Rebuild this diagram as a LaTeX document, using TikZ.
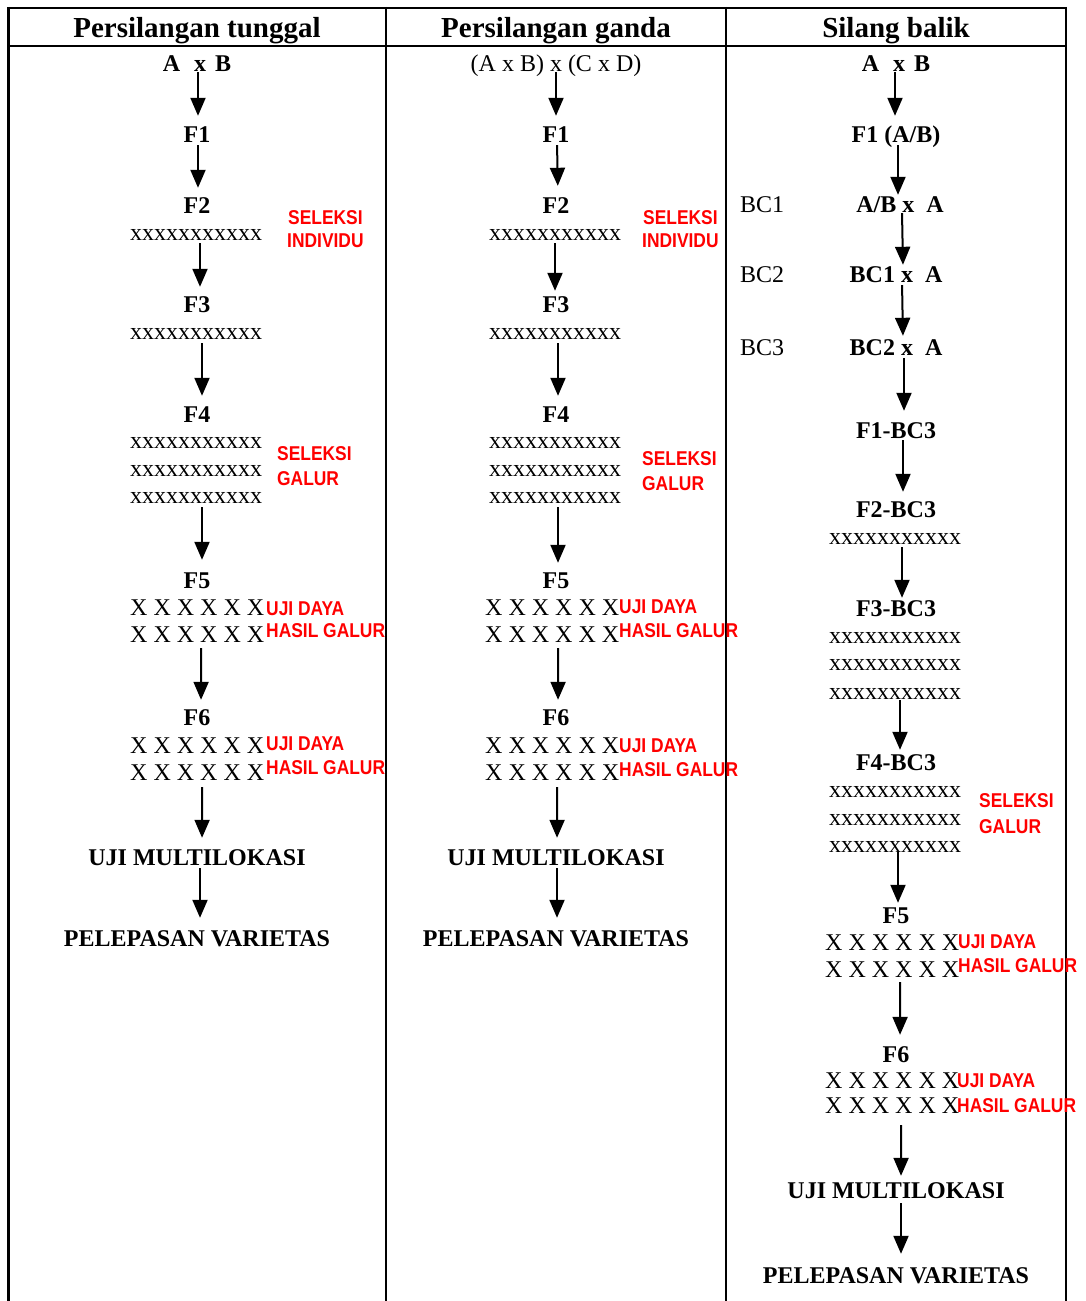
\documentclass[tikz,border=0pt]{standalone}
\usepackage{fontspec}
\setmainfont{Liberation Serif}
\newfontfamily\redfont[FakeStretch=0.87]{Liberation Sans}
\usetikzlibrary{arrows.meta}
\begin{document}
\begin{tikzpicture}[x=1pt,y=-1pt,
  tbl/.style={line width=2.5pt},
  hdr/.style={font=\fontsize{29}{32}\selectfont\bfseries, anchor=base, inner sep=0pt},
  lbl/.style={font=\fontsize{24}{26}\selectfont\bfseries, anchor=base, inner sep=0pt, text height=16pt, text depth=0pt},
  reg/.style={font=\fontsize{24}{26}\selectfont, anchor=base, inner sep=0pt, text height=16pt, text depth=0pt},
  bcl/.style={font=\fontsize{24}{26}\selectfont, anchor=base west, inner sep=0pt},
  xrow/.style={font=\fontsize{24}{26}\selectfont, anchor=base, inner sep=0pt, text height=11pt, text depth=0pt},
  Xrow/.style={font=\fontsize{24}{26}\selectfont, anchor=base west, inner sep=0pt, text height=16pt, text depth=0pt},
  note/.style={font=\redfont\fontsize{20}{22}\selectfont\bfseries, text=red, anchor=base west, inner sep=0pt},
  arr/.style={line width=2pt, -{Triangle[length=18pt,width=15pt]}}
]
\fill[white] (0,0) rectangle (1085,1301);
\useasboundingbox (0,0) rectangle (1085,1301);
% table frame
\draw[tbl] (8.5,8) -- (1066,8);
\draw[tbl] (8.5,46) -- (1066,46);
\draw[tbl] (8.5,6.75) -- (8.5,1310);
\draw[tbl] (386,6.75) -- (386,1310);
\draw[tbl] (726,6.75) -- (726,1310);
\draw[tbl] (1066,6.75) -- (1066,1310);
% headers
\node[hdr] (h1) at (197,37) {Persilangan tunggal};
\node[hdr] (h2) at (556,37) {Persilangan ganda};
\node[hdr] (h3) at (896,37) {Silang balik};

% ---------------- column 1 ----------------
\node[lbl] (c1ab) at (197,71) {A\hspace{14pt}x\hspace{9pt}B};
\node[lbl] (c1f1) at (197,142) {F1};
\node[lbl] (c1f2) at (197,213) {F2};
\node[xrow] (c1r2) at (196,240) {xxxxxxxxxxx};
\node[note] (c1s2a) at (288,224) {SELEKSI};
\node[note] (c1s2b) at (287,247) {INDIVIDU};
\node[lbl] (c1f3) at (197,312) {F3};
\node[xrow] (c1r3) at (196,339) {xxxxxxxxxxx};
\node[lbl] (c1f4) at (197,422) {F4};
\node[xrow] (c1r4a) at (196,448) {xxxxxxxxxxx};
\node[xrow] (c1r4b) at (196,476) {xxxxxxxxxxx};
\node[xrow] (c1r4c) at (196,503) {xxxxxxxxxxx};
\node[note] (c1s4a) at (277,460) {SELEKSI};
\node[note] (c1s4b) at (277,485) {GALUR};
\node[lbl] (c1f5) at (197,588) {F5};
\node[Xrow] (c1x5a) at (130,615) {X X X X X X};
\node[Xrow] (c1x5b) at (130,642) {X X X X X X};
\node[note] (c1u5a) at (266,615) {UJI DAYA};
\node[note] (c1u5b) at (266,637) {HASIL GALUR};
\node[lbl] (c1f6) at (197,725) {F6};
\node[Xrow] (c1x6a) at (130,753) {X X X X X X};
\node[Xrow] (c1x6b) at (130,780) {X X X X X X};
\node[note] (c1u6a) at (266,750) {UJI DAYA};
\node[note] (c1u6b) at (266,774) {HASIL GALUR};
\node[lbl] (c1um) at (197,865) {UJI MULTILOKASI};
\node[lbl] (c1pv) at (197,946) {PELEPASAN VARIETAS};

\draw[arr, shorten <=1pt, shorten >=10pt] ([xshift=1pt]c1ab.south) -- ([xshift=1pt]c1f1.north);
\draw[arr, shorten <=3pt, shorten >=9pt] ([xshift=1pt]c1f1.south) -- ([xshift=1pt]c1f2.north);
\draw[arr, shorten <=3pt, shorten >=9pt] ([xshift=4pt]c1r2.south) -- ([xshift=3pt]c1f3.north);
\draw[arr, shorten <=4pt, shorten >=10pt] ([xshift=6pt]c1r3.south) -- ([xshift=5pt]c1f4.north);
\draw[arr, shorten <=4pt, shorten >=12pt] ([xshift=6pt]c1r4c.south) -- ([xshift=5pt]c1f5.north);
\draw[arr, shorten <=6pt, shorten >=9pt] ([xshift=4pt]c1x5b.south) -- ([xshift=4pt]c1f6.north);
\draw[arr, shorten <=7pt, shorten >=11pt] ([xshift=5pt]c1x6b.south) -- ([xshift=5pt]c1um.north);
\draw[arr, shorten <=3pt, shorten >=12pt] ([xshift=3pt]c1um.south) -- ([xshift=3pt]c1pv.north);

% ---------------- column 2 ----------------
\node[reg] (c2ab) at (556,71) {(A x B) x (C x D)};
\node[lbl] (c2f1) at (556,142) {F1};
\node[lbl] (c2f2) at (556,213) {F2};
\node[xrow] (c2r2) at (555,240) {xxxxxxxxxxx};
\node[note] (c2s2a) at (643,224) {SELEKSI};
\node[note] (c2s2b) at (642,247) {INDIVIDU};
\node[lbl] (c2f3) at (556,312) {F3};
\node[xrow] (c2r3) at (555,339) {xxxxxxxxxxx};
\node[lbl] (c2f4) at (556,422) {F4};
\node[xrow] (c2r4a) at (555,448) {xxxxxxxxxxx};
\node[xrow] (c2r4b) at (555,476) {xxxxxxxxxxx};
\node[xrow] (c2r4c) at (555,503) {xxxxxxxxxxx};
\node[note] (c2s4a) at (642,465) {SELEKSI};
\node[note] (c2s4b) at (642,490) {GALUR};
\node[lbl] (c2f5) at (556,588) {F5};
\node[Xrow] (c2x5a) at (485,615) {X X X X X X};
\node[Xrow] (c2x5b) at (485,642) {X X X X X X};
\node[note] (c2u5a) at (619,613) {UJI DAYA};
\node[note] (c2u5b) at (619,637) {HASIL GALUR};
\node[lbl] (c2f6) at (556,725) {F6};
\node[Xrow] (c2x6a) at (485,753) {X X X X X X};
\node[Xrow] (c2x6b) at (485,780) {X X X X X X};
\node[note] (c2u6a) at (619,752) {UJI DAYA};
\node[note] (c2u6b) at (619,776) {HASIL GALUR};
\node[lbl] (c2um) at (556,865) {UJI MULTILOKASI};
\node[lbl] (c2pv) at (556,946) {PELEPASAN VARIETAS};

\draw[arr, shorten <=1pt, shorten >=10pt] (c2ab.south) -- (c2f1.north);
\draw[arr, shorten <=3pt, shorten >=11pt] ([xshift=1pt]c2f1.south) -- ([xshift=2pt]c2f2.north);
\draw[arr, shorten <=3pt, shorten >=5pt] (c2r2.south) -- ([xshift=-1pt]c2f3.north);
\draw[arr, shorten <=4pt, shorten >=10pt] ([xshift=3pt]c2r3.south) -- ([xshift=2pt]c2f4.north);
\draw[arr, shorten <=4pt, shorten >=9pt] ([xshift=3pt]c2r4c.south) -- ([xshift=2pt]c2f5.north);
\draw[arr, shorten <=6pt, shorten >=9pt] ([xshift=6pt]c2x5b.south) -- ([xshift=2pt]c2f6.north);
\draw[arr, shorten <=7pt, shorten >=11pt] ([xshift=5pt]c2x6b.south) -- ([xshift=1pt]c2um.north);
\draw[arr, shorten <=3pt, shorten >=12pt] ([xshift=1pt]c2um.south) -- ([xshift=1pt]c2pv.north);

% ---------------- column 3 ----------------
\node[lbl] (c3ab) at (896,71) {A\hspace{14pt}x\hspace{9pt}B};
\node[lbl] (c3f1) at (896,142) {F1 (A/B)};
\node[bcl] (c3bc1) at (740,212) {BC1};
\node[lbl] (c3abA) at (900,212) {A/B x\hspace{12pt}A};
\node[bcl] (c3bc2) at (740,282) {BC2};
\node[lbl] (c3bc1A) at (896,282) {BC1 x\hspace{12pt}A};
\node[bcl] (c3bc3) at (740,355) {BC3};
\node[lbl] (c3bc2A) at (896,355) {BC2 x\hspace{12pt}A};
\node[lbl] (c3f1b) at (896,438) {F1-BC3};
\node[lbl] (c3f2b) at (896,517) {F2-BC3};
\node[xrow] (c3r2) at (895,544) {xxxxxxxxxxx};
\node[lbl] (c3f3b) at (896,616) {F3-BC3};
\node[xrow] (c3r3a) at (895,643) {xxxxxxxxxxx};
\node[xrow] (c3r3b) at (895,670) {xxxxxxxxxxx};
\node[xrow] (c3r3c) at (895,699) {xxxxxxxxxxx};
\node[lbl] (c3f4b) at (896,770) {F4-BC3};
\node[xrow] (c3r4a) at (895,797) {xxxxxxxxxxx};
\node[xrow] (c3r4b) at (895,825) {xxxxxxxxxxx};
\node[xrow] (c3r4c) at (895,852) {xxxxxxxxxxx};
\node[note] (c3s4a) at (979,807) {SELEKSI};
\node[note] (c3s4b) at (979,833) {GALUR};
\node[lbl] (c3f5) at (896,923) {F5};
\node[Xrow] (c3x5a) at (825,950) {X X X X X X};
\node[Xrow] (c3x5b) at (825,977) {X X X X X X};
\node[note] (c3u5a) at (958,948) {UJI DAYA};
\node[note] (c3u5b) at (958,972) {HASIL GALUR};
\node[lbl] (c3f6) at (896,1062) {F6};
\node[Xrow] (c3x6a) at (825,1088) {X X X X X X};
\node[Xrow] (c3x6b) at (825,1113) {X X X X X X};
\node[note] (c3u6a) at (957,1087) {UJI DAYA};
\node[note] (c3u6b) at (957,1112) {HASIL GALUR};
\node[lbl] (c3um) at (896,1198) {UJI MULTILOKASI};
\node[lbl] (c3pv) at (896,1283) {PELEPASAN VARIETAS};

\draw[arr, shorten <=1pt, shorten >=10pt] ([xshift=-1pt]c3ab.south) -- ([xshift=-1pt]c3f1.north);
\draw[arr, shorten <=3pt, shorten >=1pt] ([xshift=2pt]c3f1.south) -- ([xshift=-2pt]c3abA.north);
\draw[arr, shorten <=1pt, shorten >=1pt] ([xshift=2pt]c3abA.south) -- ([xshift=7pt]c3bc1A.north);
\draw[arr, shorten <=3pt, shorten >=3pt] ([xshift=6pt]c3bc1A.south) -- ([xshift=7pt]c3bc2A.north);
\draw[arr, shorten <=3pt, shorten >=11pt] ([xshift=8pt]c3bc2A.south) -- ([xshift=8pt]c3f1b.north);
\draw[arr, shorten <=2pt, shorten >=9pt] ([xshift=7pt]c3f1b.south) -- ([xshift=7pt]c3f2b.north);
\draw[arr, shorten <=3pt, shorten >=2pt] ([xshift=7pt]c3r2.south) -- ([xshift=6pt]c3f3b.north);
\draw[arr, shorten <=1pt, shorten >=4pt] ([xshift=5pt]c3r3c.south) -- ([xshift=4pt]c3f4b.north);
\draw[arr, shorten <=0pt, shorten >=4pt] ([xshift=3pt]c3r4c.south) -- ([xshift=2pt]c3f5.north);
\draw[arr, shorten <=5pt, shorten >=11pt] ([xshift=8pt]c3x5b.south) -- ([xshift=4pt]c3f6.north);
\draw[arr, shorten <=12pt, shorten >=6pt] ([xshift=9pt]c3x6b.south) -- ([xshift=5pt]c3um.north);
\draw[arr, shorten <=5pt, shorten >=13pt] ([xshift=5pt]c3um.south) -- ([xshift=5pt]c3pv.north);
\end{tikzpicture}
\end{document}
